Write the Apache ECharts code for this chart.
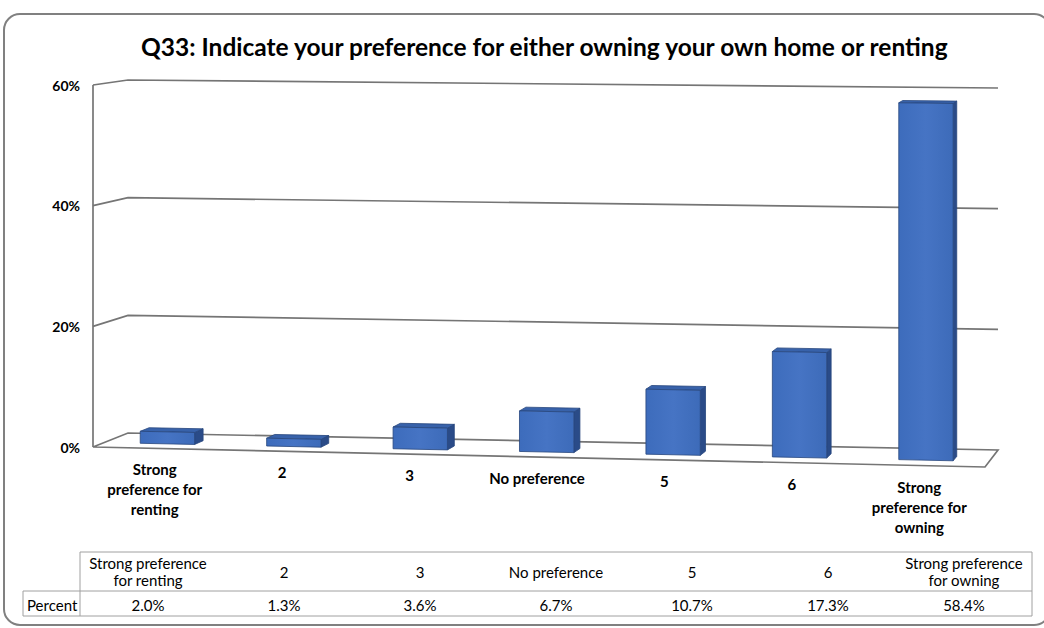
<!DOCTYPE html>
<html>
<head>
<meta charset="utf-8">
<title>Q33: Indicate your preference for either owning your own home or renting</title>
<script src="https://cdn.jsdelivr.net/npm/echarts@6/dist/echarts.min.js"></script>
<style>
  html, body { margin: 0; padding: 0; background: #fff; }
  #chart { width: 1044px; height: 628px; }
</style>
</head>
<body>
<div id="chart"></div>
<script>
// Survey answers and their shares
const categories = ['Strong preference for renting', '2', '3', 'No preference', '5', '6', 'Strong preference for owning'];
const percent = [2.0, 1.3, 3.6, 6.7, 10.7, 17.3, 58.4];
const yTicks = [0, 20, 40, 60];
const axisLabels = ['Strong\npreference for\nrenting', '2', '3', 'No preference', '5', '6', 'Strong\npreference for\nowning'];
const tableLabels = ['Strong preference\nfor renting', '2', '3', 'No preference', '5', '6', 'Strong preference\nfor owning'];
const rowName = 'Percent';

const FONT = 'Lato, "Liberation Sans", sans-serif';

// Corners of the perspective box: front (d=0) and back (d=1) planes,
// each given at u (left/right) and v (bottom/top) extremes.
const FRONT = { p00: [93, 447], p01: [93, 85], p10: [985, 467], p11: [985, 97] };
const BACK  = { p00: [128, 433], p01: [128, 80], p10: [998, 450], p11: [998, 88] };

function bilerp(c, u, v) {
  const bx = c.p00[0] + (c.p10[0] - c.p00[0]) * u;
  const by = c.p00[1] + (c.p10[1] - c.p00[1]) * u;
  const tx = c.p01[0] + (c.p11[0] - c.p01[0]) * u;
  const ty = c.p01[1] + (c.p11[1] - c.p01[1]) * u;
  return [bx + (tx - bx) * v, by + (ty - by) * v];
}
function project(u, v, d) {
  const f = bilerp(FRONT, u, v), b = bilerp(BACK, u, v);
  return [f[0] + (b[0] - f[0]) * d, f[1] + (b[1] - f[1]) * d];
}
function toU(cs, px) { return (px - cs.x) / cs.width; }
function toV(cs, py) { return (cs.y + cs.height - py) / cs.height; }

const WALL = { stroke: '#757575', lineWidth: 1.7, fill: null };

// Walls, floor and gridlines, one item per value tick
function renderGrid(params, api) {
  const cs = params.coordSys;
  const v = toV(cs, api.coord([0, api.value(1)])[1]);
  if (api.value(1) === 0) {
    return {
      type: 'group',
      children: [
        { type: 'polygon', shape: { points: [project(0, 0, 0), project(0, 0, 1), project(1, 0, 1), project(1, 0, 0)] }, style: WALL },
        { type: 'polyline', shape: { points: [project(0, 0, 0), project(0, 1, 0)] }, style: WALL }
      ]
    };
  }
  return {
    type: 'polyline',
    shape: { points: [project(0, v, 0), project(0, v, 1), project(1, v, 1)] },
    style: WALL
  };
}

// 3-D looking bars: right side, top and front faces
function renderBar(params, api) {
  const cs = params.coordSys;
  const i = api.value(0);
  const base = api.coord([i, 0]);
  const top = api.coord([i, api.value(1)]);
  const band = api.size([1, 0])[0];
  const uc = toU(cs, base[0]);
  const hw = band * 0.215 / cs.width;
  const uL = uc - hw, uR = uc + hw;
  const v = toV(cs, top[1]);
  const d0 = 0.32, d1 = 0.58;
  const edge = { stroke: '#27467e', lineWidth: 0.8 };
  return {
    type: 'group',
    children: [
      { type: 'polygon', shape: { points: [project(uR, 0, d0), project(uR, 0, d1), project(uR, v, d1), project(uR, v, d0)] },
        style: Object.assign({ fill: '#2a4b88' }, edge) },
      { type: 'polygon', shape: { points: [project(uL, v, d0), project(uR, v, d0), project(uR, v, d1), project(uL, v, d1)] },
        style: Object.assign({ fill: '#3862aa' }, edge) },
      { type: 'polygon', shape: { points: [project(uL, 0, d0), project(uR, 0, d0), project(uR, v, d0), project(uL, v, d0)] },
        style: Object.assign({
          fill: new echarts.graphic.LinearGradient(0, 0, 1, 0, [
            { offset: 0, color: '#3d6cbc' }, { offset: 0.5, color: '#4674c4' }, { offset: 1, color: '#3d6bb9' }
          ])
        }, edge) }
    ]
  };
}

// Category names under the floor's front edge
function renderCategory(params, api) {
  const cs = params.coordSys;
  const u = toU(cs, api.coord([api.value(0), 0])[0]);
  const p = project(u, 0, 0);
  return {
    type: 'text',
    x: p[0] - 2, y: p[1] + 11,
    style: {
      text: axisLabels[params.dataIndex],
      fontFamily: FONT, fontSize: 15, fontWeight: 'bold', fill: '#000',
      align: 'center', verticalAlign: 'top', lineHeight: 20
    }
  };
}

// Data table below the chart
function buildTable() {
  const left = 23, colStart = 80, right = 1032;
  const top = 552, mid = 591, bottom = 616;
  const colW = (right - colStart) / categories.length;
  const line = (x1, y1, x2, y2) => ({ type: 'line', shape: { x1, y1, x2, y2 }, style: { stroke: '#a0a0a0', lineWidth: 1 } });
  const items = [
    line(colStart, top, right, top),
    line(left, mid, right, mid),
    line(left, bottom, right, bottom),
    line(colStart, top, colStart, bottom),
    line(right, top, right, bottom),
    line(left, mid, left, bottom),
    { type: 'text', x: left + 4, y: (mid + bottom) / 2 + 1,
      style: { text: rowName, fontFamily: FONT, fontSize: 15, fill: '#000', align: 'left', verticalAlign: 'middle' } }
  ];
  categories.forEach((c, i) => {
    const cx = colStart + colW * (i + 0.5);
    items.push({ type: 'text', x: cx, y: (top + mid) / 2,
      style: { text: tableLabels[i], fontFamily: FONT, fontSize: 15, fill: '#000', align: 'center', verticalAlign: 'middle', lineHeight: 17 } });
    items.push({ type: 'text', x: cx, y: (mid + bottom) / 2 + 1,
      style: { text: percent[i].toFixed(1) + '%', fontFamily: FONT, fontSize: 15, fill: '#000', align: 'center', verticalAlign: 'middle' } });
  });
  return items;
}

const chart = echarts.init(document.getElementById('chart'), null, { renderer: 'svg' });
chart.setOption({
  animation: false,
  backgroundColor: '#fff',
  title: {
    text: 'Q33: Indicate your preference for either owning your own home or renting',
    left: 136, top: 29,
    textStyle: { fontFamily: FONT, fontSize: 24.5, fontWeight: 'bold', color: '#000' }
  },
  grid: { left: 93, right: 59, top: 85, bottom: 181, containLabel: false },
  xAxis: {
    type: 'category', data: categories,
    axisLine: { show: false }, axisTick: { show: false }, axisLabel: { show: false }, splitLine: { show: false }
  },
  yAxis: {
    type: 'value', min: 0, max: 60, interval: 20,
    axisLine: { show: false }, axisTick: { show: false }, splitLine: { show: false },
    axisLabel: { formatter: '{value}%', margin: 13, fontFamily: FONT, fontSize: 14, fontWeight: 'bold', color: '#000' }
  },
  graphic: [
    { type: 'rect', shape: { x: 4, y: 14, width: 1046, height: 611, r: 16 },
      style: { fill: null, stroke: '#808080', lineWidth: 2 }, z: 0 },
    { type: 'group', children: buildTable() }
  ],
  series: [
    { type: 'custom', name: 'grid', renderItem: renderGrid, data: yTicks.map(t => [0, t]), z: 1, silent: true, clip: false },
    { type: 'custom', name: rowName, renderItem: renderBar, data: percent.map((p, i) => [i, p]), z: 2, clip: false },
    { type: 'custom', name: 'labels', renderItem: renderCategory, data: categories.map((c, i) => [i, 0]), z: 3, silent: true, clip: false }
  ]
});
</script>
</body>
</html>
